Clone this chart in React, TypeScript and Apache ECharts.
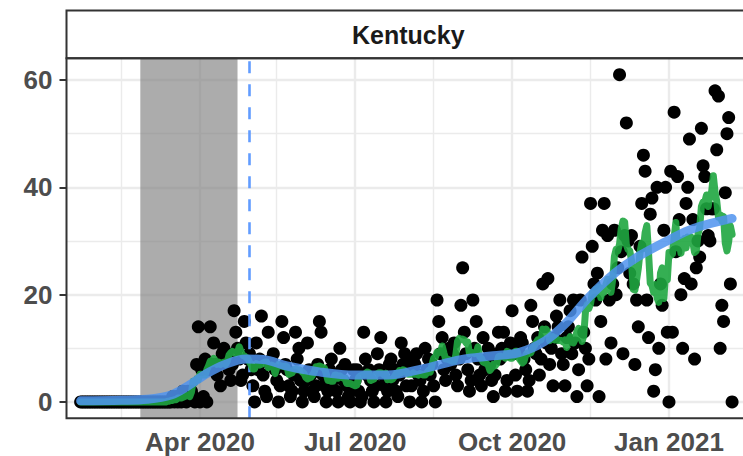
import React, { useEffect, useRef } from "react";
import * as echarts from "echarts";

// ---- data (daily deaths, Kentucky) ----
const startDate = "2020-01-22";
const deathsJan2020 = [0, 0, 0, 0, 0, 0, 0, 0, 0, 0];
const deathsFeb2020 = [0, 0, 0, 0, 0, 0, 0, 0, 0, 0, 0, 0, 0, 0, 0, 0, 0, 0, 0, 0, 0, 0, 0, 0, 0, 0, 0, 0, 0];
const deathsMar2020 = [0, 0, 0, 0, 0, 0, 0, 0, 0, 0, 0, 0, 0, 0, 0, 1, 0, 1, 0, 1, 0, 2, 1, 0, 2, 1, 2, 1, 0, 7, 14];
const deathsApr2020 = [0, 6, 1, 8, 0, 6, 14, 7, 11, 7, 5, 7, 3, 9, 10, 8, 9, 6, 4, 7, 17, 13, 10, 8, 4, 5, 15, 11, 8, 9];
const deathsMay2020 = [6, 3, 0, 11, 6, 8, 16, 5, 2, 1, 13, 7, 8, 9, 6, 4, 0, 3, 15, 12, 7, 6, 3, 1, 2, 5, 13, 8, 10, 4, 0];
const deathsJun2020 = [2, 4, 11, 6, 5, 2, 1, 3, 7, 15, 13, 5, 3, 0, 2, 6, 8, 4, 5, 2, 0, 10, 6, 4, 7, 3, 1, 0, 3, 6];
const deathsJul2020 = [4, 6, 2, 0, 1, 13, 8, 5, 6, 4, 2, 0, 3, 9, 6, 12, 5, 3, 0, 2, 7, 8, 4, 6, 2, 1, 5, 11, 7, 9, 3];
const deathsAug2020 = [6, 0, 3, 8, 7, 9, 5, 4, 0, 2, 10, 6, 8, 5, 7, 3, 0, 19, 15, 9, 12, 6, 4, 8, 10, 7, 9, 11, 5, 3, 8];
const deathsSep2020 = [18, 25, 13, 9, 6, 2, 4, 19, 10, 15, 8, 5, 3, 12, 6, 8, 10, 7, 4, 1, 5, 9, 13, 8, 10, 13, 2, 4, 9, 11];
const deathsOct2020 = [17, 9, 5, 2, 10, 12, 11, 8, 6, 2, 4, 18, 15, 10, 9, 12, 5, 8, 22, 14, 11, 23, 7, 10, 3, 12, 16, 14, 19, 9, 7];
const deathsNov2020 = [3, 12, 14, 17, 9, 19, 11, 1, 6, 19, 27, 13, 10, 3, 8, 37, 29, 22, 19, 24, 1, 15, 32, 37, 8, 31, 19, 11, 22, 32];
const deathsDec2020 = [20, 25, 61, 28, 9, 31, 52, 30, 24, 31, 22, 7, 19, 14, 29, 37, 46, 43, 19, 12, 35, 38, 2, 6, 40, 10, 22, 18, 32, 40, 13];
const deathsJan2021 = [0, 43, 13, 54, 28, 42, 34, 20, 10, 23, 37, 40, 49, 22, 34, 8, 25, 30, 27, 51, 44, 42, 36, 31, 30, 36, 36, 58, 47, 57, 10];
const deathsFeb2021 = [18, 15, 39, 50, 53, 22, 0];

// smoothed trend
const smoothDates = ["2020-01-22", "2020-02-15", "2020-03-01", "2020-03-15", "2020-03-25", "2020-04-05", "2020-04-15", "2020-04-28", "2020-05-08", "2020-05-22", "2020-06-10", "2020-07-01", "2020-07-20", "2020-08-10", "2020-09-01", "2020-09-20", "2020-10-05", "2020-10-20", "2020-11-01", "2020-11-15", "2020-12-01", "2020-12-15", "2021-01-01", "2021-01-15", "2021-02-07"];
const smoothValues = [0.2, 0.3, 0.5, 1.3, 3.0, 5.3, 6.9, 8.0, 7.9, 6.7, 5.6, 5.0, 5.0, 6.2, 7.9, 8.6, 9.2, 11.3, 14.5, 19.5, 24.2, 27.3, 30.2, 32.3, 34.2];

// axes
const xLimits = ["2020-01-13T17:15:00Z", "2021-02-17T12:00:00Z"];
const yLimits = [-3.05, 64.05];
const xMajorBreaks = ["2020-04-01", "2020-07-01", "2020-10-01", "2021-01-01"];
const xMajorLabels = ["Apr 2020", "Jul 2020", "Oct 2020", "Jan 2021"];
const xMinorBreaks = ["2020-02-15", "2020-05-16", "2020-08-16", "2020-11-16"];
const yMajorBreaks = [0, 20, 40, 60];
const yMinorBreaks = [10, 30, 50];

const shadeRange = ["2020-02-26", "2020-04-23"];
const eventDate = "2020-04-30";
const panelTitle = "Kentucky";

const DAY = 86400000;
const ts = (s: string) => new Date(s).getTime();
const FONT = "'Liberation Sans', Arial, Helvetica, sans-serif";

export default function App() {
  const ref = useRef<HTMLDivElement>(null);
  useEffect(() => {
    if (!ref.current) return;
    const chart = echarts.init(ref.current, undefined, { renderer: "svg" });

    const deaths = [
      ...deathsJan2020, ...deathsFeb2020, ...deathsMar2020, ...deathsApr2020, ...deathsMay2020,
      ...deathsJun2020, ...deathsJul2020, ...deathsAug2020, ...deathsSep2020, ...deathsOct2020,
      ...deathsNov2020, ...deathsDec2020, ...deathsJan2021, ...deathsFeb2021,
    ];
    const t0 = ts(startDate);
    const pts = deaths.map((v, i) => [t0 + i * DAY, v]);
    const roll = deaths.map((_, i) => {
      let s = 0, n = 0;
      for (let k = i - 3; k <= i + 3; k++) {
        if (k >= 0 && k < deaths.length) { s += deaths[k]; n++; }
      }
      return [t0 + i * DAY, s / n];
    });
    const smooth = smoothDates.map((d, i) => [ts(d), smoothValues[i]]);

    const xMin = ts(xLimits[0]);
    const xMax = ts(xLimits[1]);
    const xMajorTs = xMajorBreaks.map(ts);

    const gridLines: any[] = [];
    yMinorBreaks.forEach((y) => gridLines.push({ coords: [[xMin, y], [xMax, y]], lineStyle: { width: 1.4 } }));
    xMinorBreaks.forEach((d) => gridLines.push({ coords: [[ts(d), yLimits[0]], [ts(d), yLimits[1]]], lineStyle: { width: 1.4 } }));
    yMajorBreaks.forEach((y) => gridLines.push({ coords: [[xMin, y], [xMax, y]], lineStyle: { width: 2.4 } }));
    xMajorTs.forEach((t) => gridLines.push({ coords: [[t, yLimits[0]], [t, yLimits[1]]], lineStyle: { width: 2.4 } }));

    const labelStyle = { fontSize: 26, fontWeight: "bold" as const, color: "#4D4D4D", fontFamily: FONT };

    chart.setOption({
      animation: false,
      backgroundColor: "#ffffff",
      grid: { left: 66.5, right: 10, top: 58.3, bottom: 37.7, show: false },
      xAxis: {
        type: "value",
        min: xMin,
        max: xMax,
        splitLine: { show: false },
        axisLine: { show: false },
        axisTick: { show: true, length: 7, lineStyle: { color: "#333333", width: 2 }, customValues: xMajorTs },
        axisLabel: {
          ...labelStyle,
          margin: 11,
          customValues: xMajorTs,
          formatter: (v: number) => {
            const i = xMajorTs.findIndex((t) => Math.abs(t - v) < DAY);
            return i >= 0 ? xMajorLabels[i] : "";
          },
        },
      },
      yAxis: {
        type: "value",
        min: yLimits[0],
        max: yLimits[1],
        splitLine: { show: false },
        axisLine: { show: false },
        axisTick: { show: true, length: 7, lineStyle: { color: "#333333", width: 2 }, customValues: yMajorBreaks },
        axisLabel: { ...labelStyle, margin: 14, customValues: yMajorBreaks },
      },
      graphic: [
        {
          type: "rect",
          z: 100,
          shape: { x: 66.5, y: 10.5, width: 684, height: 47.8 },
          style: { fill: "#ffffff", stroke: "#333333", lineWidth: 2 },
        },
        {
          type: "text",
          z: 101,
          x: 408.3,
          y: 35.3,
          style: { text: panelTitle, fontSize: 25, fontWeight: "bold", fill: "#1A1A1A", fontFamily: FONT, align: "center", verticalAlign: "middle" },
        },
        {
          type: "rect",
          z: 100,
          shape: { x: 66.5, y: 58.3, width: 684, height: 360 },
          style: { fill: "none", stroke: "#333333", lineWidth: 2 },
        },
      ],
      series: [
        {
          type: "lines",
          coordinateSystem: "cartesian2d",
          z: 1,
          silent: true,
          lineStyle: { color: "#EBEBEB", opacity: 1, curveness: 0 },
          data: gridLines,
        },
        {
          type: "custom",
          z: 1.5,
          silent: true,
          encode: { x: [0, 1] },
          data: [[ts(shadeRange[0]), ts(shadeRange[1])]],
          renderItem: (params: any, api: any) => {
            const p1 = api.coord([api.value(0), yLimits[1]]);
            const p2 = api.coord([api.value(1), yLimits[0]]);
            return {
              type: "rect",
              shape: { x: p1[0], y: p1[1], width: p2[0] - p1[0], height: p2[1] - p1[1] },
              style: { fill: "rgba(127,127,127,0.65)" },
            };
          },
        },
        {
          type: "scatter",
          z: 2,
          symbolSize: 13,
          itemStyle: { color: "#000000", opacity: 1 },
          data: pts,
        },
        {
          type: "lines",
          coordinateSystem: "cartesian2d",
          z: 3,
          silent: true,
          lineStyle: { color: "#619CFF", width: 2.6, type: [12, 11], opacity: 1 },
          data: [{ coords: [[ts(eventDate), yLimits[0]], [ts(eventDate), yLimits[1]]] }],
        },
        {
          type: "line",
          z: 4,
          showSymbol: false,
          data: roll,
          lineStyle: { color: "#1FA640", width: 7, opacity: 0.9, cap: "round", join: "round" },
        },
        {
          type: "line",
          z: 5,
          showSymbol: false,
          smooth: 0.35,
          data: smooth,
          lineStyle: { color: "#4F93EE", width: 9, opacity: 0.85, cap: "round", join: "round" },
        },
      ],
    });
    return () => chart.dispose();
  }, []);

  return (
    <div style={{ position: "fixed", left: 0, top: 0, width: 743, height: 456, overflow: "hidden", background: "#fff" }}>
      <div ref={ref} style={{ width: 760, height: 456 }} />
    </div>
  );
}
